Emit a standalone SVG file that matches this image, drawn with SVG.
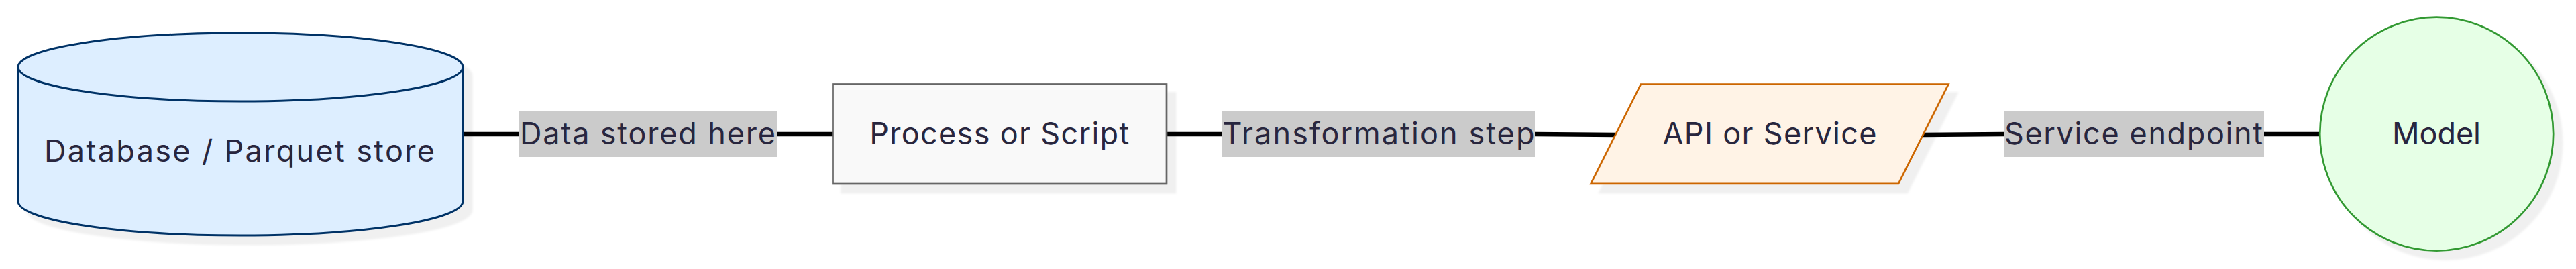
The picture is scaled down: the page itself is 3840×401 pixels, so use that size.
<svg xmlns="http://www.w3.org/2000/svg" width="3840" height="401" viewBox="0 0 3840 401">
  <defs>
    <filter id="shadow" x="-10%" y="-10%" width="130%" height="140%">
      <feDropShadow dx="13" dy="13" stdDeviation="1.5" flood-color="#000" flood-opacity="0.06"/>
    </filter>
    <style>
      .lbl { font-family: Inter, "Noto Sans", "DejaVu Sans", sans-serif; font-size: 45px; fill: #28263e; text-anchor: middle; }
      .edge { fill: none; stroke: #000; stroke-width: 6.5; }
      .ebg { fill: #cbcbcb; }
      .node { filter: url(#shadow); }
    </style>
  </defs>
  <rect width="3840" height="401" fill="#fff"/>

  <g id="connectors">
    <path class="edge" d="M690,200 L1241,200"/>
    <path class="edge" d="M1739,200 L2288,200 L2408,201"/>
    <path class="edge" d="M2867,201 L2987,200 L3458,200"/>
    <g id="label-1">
      <rect class="ebg" x="773" y="166" width="385" height="68"/>
      <text class="lbl" x="965.5" y="214.5" textLength="381">Data stored here</text>
    </g>
    <g id="label-2">
      <rect class="ebg" x="1821" y="166" width="467" height="68"/>
      <text class="lbl" x="2055" y="215" textLength="465">Transformation step</text>
    </g>
    <g id="label-3">
      <rect class="ebg" x="2987" y="166" width="388" height="68"/>
      <text class="lbl" x="3180.5" y="215" textLength="385">Service endpoint</text>
    </g>
  </g>

  <g id="node-database">
    <path class="node" d="M27,100 a331.5,51 0 0 0 663,0 a331.5,51 0 0 0 -663,0 l0,200 a331.5,51 0 0 0 663,0 l0,-200" fill="#ddeeff" stroke="#003366" stroke-width="3"/>
    <text class="lbl" x="357" y="241" textLength="582">Database / Parquet store</text>
  </g>

  <g id="node-process">
    <rect class="node" x="1241.5" y="125.5" width="497.5" height="148.5" fill="#f9f9f9" stroke="#666666" stroke-width="2.7"/>
    <text class="lbl" x="1489.7" y="215.3" textLength="387">Process or Script</text>
  </g>

  <g id="node-api">
    <polygon class="node" points="2446,125.5 2904.5,125.5 2830,273.8 2371.5,273.8" fill="#fff3e6" stroke="#cc6600" stroke-width="2.7"/>
    <text class="lbl" x="2638" y="215" textLength="319">API or Service</text>
  </g>

  <g id="node-model">
    <circle class="node" cx="3632.2" cy="199.7" r="174" fill="#e6ffe6" stroke="#339933" stroke-width="2.7"/>
    <text class="lbl" x="3632" y="215" textLength="132">Model</text>
  </g>
</svg>
